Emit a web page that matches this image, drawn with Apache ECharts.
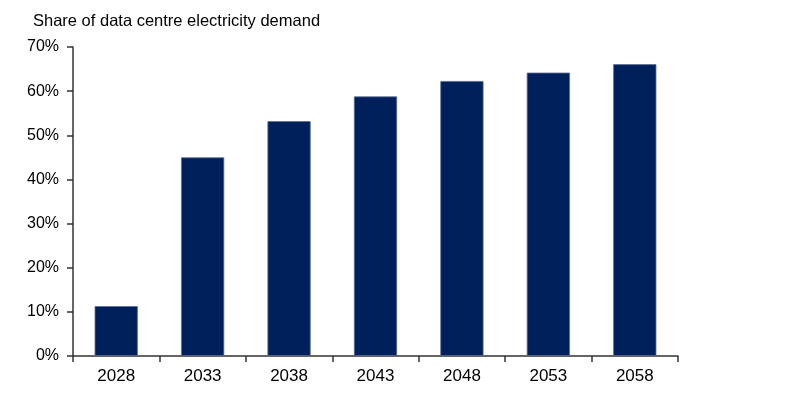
<!DOCTYPE html>
<html><head><meta charset="utf-8">
<script src="https://cdn.jsdelivr.net/npm/echarts@6/dist/echarts.min.js"></script>
<style>html,body{margin:0;padding:0;background:#fff}#c{width:806px;height:407px}</style>
</head><body><div id="c"></div>
<script>
const categories = ['2028','2033','2038','2043','2048','2053','2058'];
const shareValues = [11.3, 45.0, 53.2, 58.8, 62.3, 64.2, 66.1];
const yTicks = [0, 10, 20, 30, 40, 50, 60, 70];
const titleText = 'Share of data centre electricity demand';

const chart = echarts.init(document.getElementById('c'), null, {renderer: 'canvas'});
const font = '"Liberation Sans", Arial, sans-serif';
chart.setOption({
  animation: false,
  title: {text: titleText, left: 28, top: 8, textStyle: {fontFamily: font, fontSize: 16.5, fontWeight: 'normal', color: '#000'}},
  grid: {left: 73, top: 47, right: 128, bottom: 51},
  xAxis: {
    type: 'category', data: categories,
    axisLine: {lineStyle: {color: '#333', width: 1.5}},
    axisTick: {show: true, length: 6, alignWithLabel: false, lineStyle: {color: '#333', width: 1.5}},
    axisLabel: {fontFamily: font, fontSize: 17, color: '#000', margin: 12}
  },
  yAxis: {
    type: 'value', min: yTicks[0], max: yTicks[yTicks.length-1], interval: 10,
    splitLine: {show: false},
    axisLine: {show: true, lineStyle: {color: '#333', width: 1.5}},
    axisTick: {show: true, length: 6, lineStyle: {color: '#333', width: 1.5}},
    axisLabel: {fontFamily: font, fontSize: 16, color: '#000', margin: 14, formatter: '{value}%'}
  },
  series: [{
    type: 'bar', data: shareValues, barWidth: '50%',
    itemStyle: {color: '#00205B', borderColor: '#5d6d92', borderWidth: 0.8}
  }]
});
</script></body></html>
